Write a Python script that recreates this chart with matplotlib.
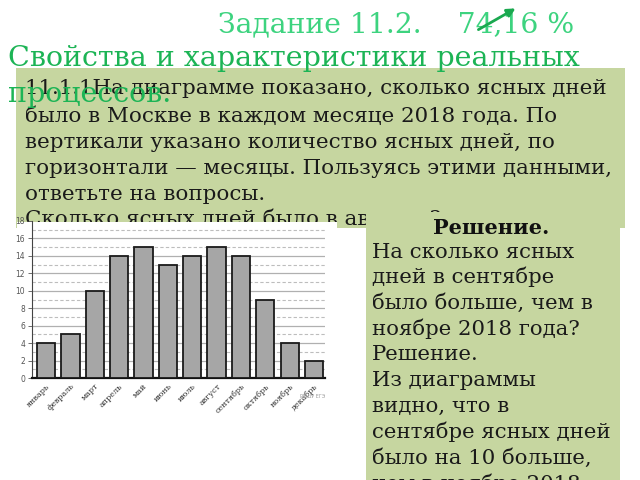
import matplotlib
matplotlib.use("Agg")
import matplotlib.pyplot as plt
from matplotlib.patches import Rectangle, FancyArrowPatch

months = ["январь", "февраль", "март", "апрель", "май", "июнь",
          "июль", "август", "сентябрь", "октябрь", "ноябрь", "декабрь"]
clear_days = [4, 5, 10, 14, 15, 13, 14, 15, 14, 9, 4, 2]
y_ticks = [0, 2, 4, 6, 8, 10, 12, 14, 16, 18]

title_text = "Задание 11.2.    74,16 %"
subtitle_lines = ["Свойства и характеристики реальных", "процессов."]
task_lines = [
    "11.1.1На диаграмме показано, сколько ясных дней",
    "было в Москве в каждом месяце 2018 года. По",
    "вертикали указано количество ясных дней, по",
    "горизонтали — месяцы. Пользуясь этими данными,",
    "ответьте на вопросы.",
    "Сколько ясных дней было в августе?",
]
solution_header = "Решение."
solution_lines = [
    "На сколько ясных",
    "дней в сентябре",
    "было больше, чем в",
    "ноябре 2018 года?",
    "Решение.",
    "Из диаграммы",
    "видно, что в",
    "сентябре ясных дней",
    "было на 10 больше,",
    "чем в ноябре 2018",
]

W, H = 640, 480
fig = plt.figure(figsize=(6.4, 4.8), dpi=100)
fig.patch.set_facecolor("white")

def fx(x):
    return x / W

def fy(y):
    return 1 - y / H

BOX = "#c6d6a0"
SERIF = ["DejaVu Serif"]

# box 1
fig.add_artist(Rectangle((fx(16), fy(228)), fx(625) - fx(16), fy(68) - fy(228),
                         transform=fig.transFigure, facecolor=BOX, edgecolor="none", zorder=1))
task_y = [89, 116, 142, 168, 194, 219]
for line, yy in zip(task_lines, task_y):
    fig.text(fx(25), fy(yy), line, fontsize=15.4, family=SERIF, color="#1a1a1a",
             va="center", ha="left", zorder=2)

# white chart background
fig.add_artist(Rectangle((fx(17), fy(400)), fx(337) - fx(17), fy(222) - fy(400),
                         transform=fig.transFigure, facecolor="white", edgecolor="none", zorder=3))

# box 2
fig.add_artist(Rectangle((fx(366), fy(480)), fx(620) - fx(366), fy(212) - fy(480),
                         transform=fig.transFigure, facecolor=BOX, edgecolor="none", zorder=5))
fig.text(fx(491), fy(228), solution_header, fontsize=15, family=SERIF, weight="bold",
         color="#111111", va="center", ha="center", zorder=6)
sol_y = [252, 277, 303, 329, 355, 380, 406, 432, 458, 484]
for line, yy in zip(solution_lines, sol_y):
    fig.text(fx(372), fy(yy), line, fontsize=15.3, family=SERIF, color="#1a1a1a",
             va="center", ha="left", zorder=6)

# titles
fig.text(fx(218), fy(25), title_text, fontsize=20.3, family=SERIF, color="#3dd37f",
         va="center", ha="left", zorder=7)
fig.text(fx(8), fy(58), subtitle_lines[0], fontsize=20.5, family=SERIF, color="#1cb455",
         va="center", ha="left", zorder=7)
fig.text(fx(8), fy(94), subtitle_lines[1], fontsize=20.5, family=SERIF, color="#1cb455",
         va="center", ha="left", zorder=7)
fig.add_artist(FancyArrowPatch((fx(476), fy(31)), (fx(518), fy(7)),
                               transform=fig.transFigure, arrowstyle="-|>",
                               mutation_scale=12, color="#1aa84f", lw=2, zorder=8))

# chart
ax = fig.add_axes([fx(32), fy(378), fx(325) - fx(32), fy(221) - fy(378)])
ax.set_zorder(4)
ax.set_facecolor("none")
x = list(range(len(months)))
ax.bar(x, clear_days, width=0.75, color="#a6a6a6", edgecolor="#1a1a1a", linewidth=1.3, zorder=3)
ax.set_xlim(-0.58, 11.45)
ax.set_ylim(0, 18)
ax.set_yticks(y_ticks)
ax.set_yticklabels([str(v) for v in y_ticks], fontsize=5.5, color="#555555", family="DejaVu Sans")
for v in range(1, 18):
    if v % 2 == 0:
        ax.axhline(v, color="#b0b0b0", lw=0.9, zorder=1)
    else:
        ax.axhline(v, color="#bdbdbd", lw=0.8, ls=(0, (3, 2)), zorder=1)
ax.set_xticks(x)
ax.set_xticklabels(months, rotation=45, ha="right", rotation_mode="anchor",
                   fontsize=5.8, color="#333333", family="DejaVu Serif")
ax.tick_params(axis="x", length=0, pad=3)
ax.tick_params(axis="y", length=3, width=0.6, color="#555555", pad=2)
for s in ["top", "right"]:
    ax.spines[s].set_visible(False)
ax.spines["left"].set_color("#444444")
ax.spines["left"].set_linewidth(0.8)
ax.spines["bottom"].set_color("#111111")
ax.spines["bottom"].set_linewidth(1.6)
ax.text(1.0, -0.12, "РЕШУ ЕГЭ", transform=ax.transAxes, fontsize=3.5, color="#999999",
        ha="right", va="center")

fig.savefig("out.png", dpi=100)
